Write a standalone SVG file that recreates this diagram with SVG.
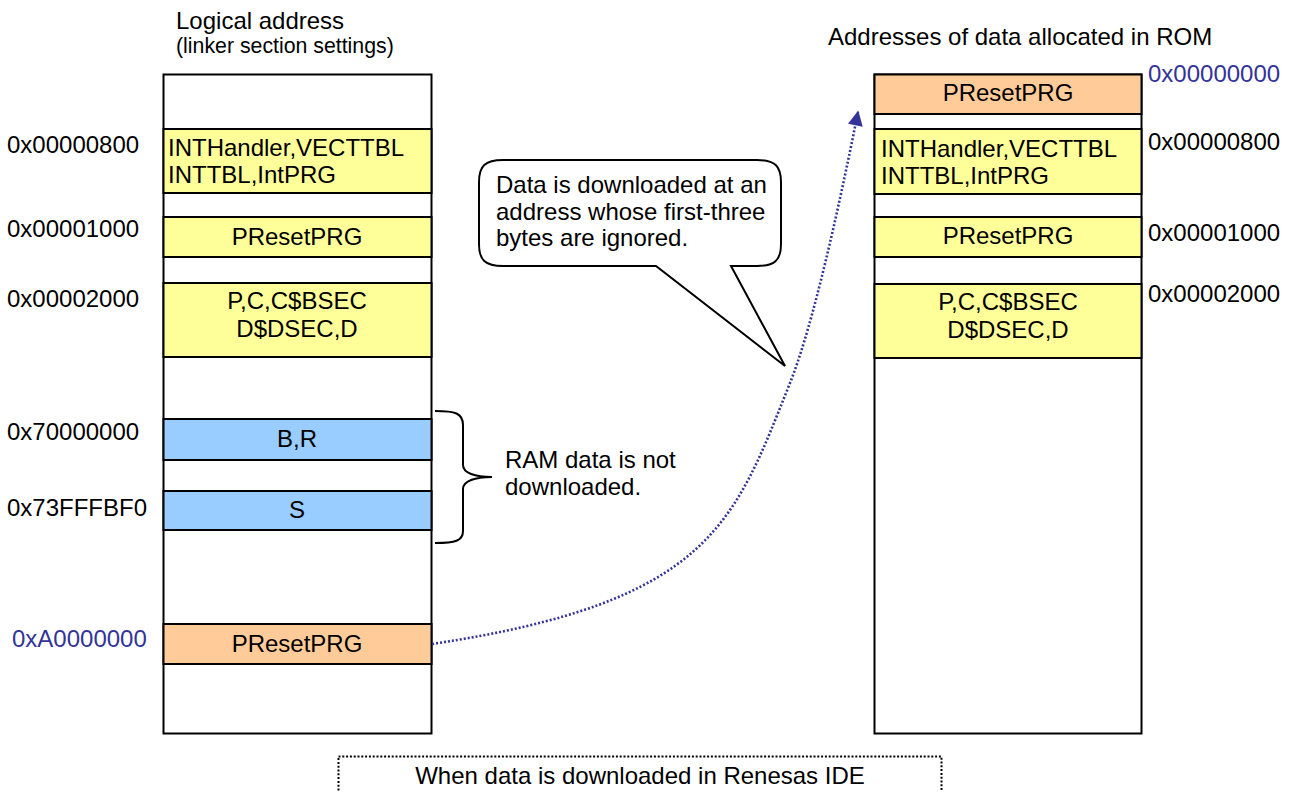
<svg xmlns="http://www.w3.org/2000/svg" width="1290" height="792" viewBox="0 0 1290 792">
<style>
text{font-family:"Liberation Sans",Arial,sans-serif;font-size:24px;fill:#000}
.sub{font-size:21.3px}
.blue{fill:#333399}
.mid{text-anchor:middle}
.col{fill:#fff;stroke:#000;stroke-width:2}
.blk{stroke:#000;stroke-width:2}
.y{fill:#FFFF99}
.o{fill:#FFCC99}
.b{fill:#99CCFF}
</style>
<defs>
<marker id="ah" viewBox="0 0 10 10" refX="9" refY="5" markerUnits="userSpaceOnUse" markerWidth="16" markerHeight="15" orient="auto">
<path d="M0,0 L10,5 L0,10 z" fill="#333399"/>
</marker>
</defs>
<rect width="1290" height="792" fill="#fff"/>

<g id="headers">
<text x="176" y="29">Logical address</text>
<text class="sub" x="176" y="53">(linker section settings)</text>
<text x="828" y="45">Addresses of data allocated in ROM</text>
</g>

<g id="logical-map">
<rect class="col" x="163.5" y="74.5" width="268" height="659"/>
<rect class="blk y" x="163.5" y="129" width="268" height="64"/>
<rect class="blk y" x="163.5" y="217" width="268" height="40"/>
<rect class="blk y" x="163.5" y="283" width="268" height="74"/>
<rect class="blk b" x="163.5" y="419" width="268" height="41"/>
<rect class="blk b" x="163.5" y="491" width="268" height="39"/>
<rect class="blk o" x="163.5" y="624" width="268" height="40"/>
<text x="168" y="156">INTHandler,VECTTBL</text>
<text x="168" y="183">INTTBL,IntPRG</text>
<text class="mid" x="297" y="245">PResetPRG</text>
<text class="mid" x="297" y="309">P,C,C$BSEC</text>
<text class="mid" x="297" y="337">D$DSEC,D</text>
<text class="mid" x="297" y="447">B,R</text>
<text class="mid" x="297" y="518">S</text>
<text class="mid" x="297" y="652">PResetPRG</text>
</g>

<g id="logical-addresses">
<text x="7" y="153">0x00000800</text>
<text x="7" y="237">0x00001000</text>
<text x="7" y="307">0x00002000</text>
<text x="7" y="440">0x70000000</text>
<text x="7" y="516">0x73FFFBF0</text>
<text class="blue" x="12" y="647">0xA0000000</text>
</g>

<g id="rom-map">
<rect class="col" x="874.5" y="74.5" width="267" height="659"/>
<rect class="blk o" x="874.5" y="74.5" width="267" height="39.5"/>
<rect class="blk y" x="874.5" y="129" width="267" height="65"/>
<rect class="blk y" x="874.5" y="217" width="267" height="40"/>
<rect class="blk y" x="874.5" y="284" width="267" height="74"/>
<text class="mid" x="1008" y="101">PResetPRG</text>
<text x="881" y="157">INTHandler,VECTTBL</text>
<text x="881" y="184">INTTBL,IntPRG</text>
<text class="mid" x="1008" y="244">PResetPRG</text>
<text class="mid" x="1008" y="310">P,C,C$BSEC</text>
<text class="mid" x="1008" y="338">D$DSEC,D</text>
</g>

<g id="rom-addresses">
<text class="blue" x="1148" y="82">0x00000000</text>
<text x="1148" y="150">0x00000800</text>
<text x="1148" y="241">0x00001000</text>
<text x="1148" y="302">0x00002000</text>
</g>

<g id="callout">
<path d="M503,160 H757 C775,160 781,166 781,182 V244 C781,260 775,266 757,266 H731 L785,366 L656,266 H503 C485,266 479,260 479,244 V182 C479,166 485,160 503,160 Z" fill="#fff" stroke="#000" stroke-width="2" stroke-linejoin="miter"/>
<text x="496" y="193">Data is downloaded at an</text>
<text x="496" y="220">address whose first-three</text>
<text x="496" y="246">bytes are ignored.</text>
</g>

<g id="ram-brace">
<path d="M435,411 C455,411 463,413 463,425 V465 C463,473 475,477 492,477 C475,477 463,481 463,489 V531 C463,541 455,543 435,543" fill="none" stroke="#000" stroke-width="2"/>
<text x="505" y="468">RAM data is not</text>
<text x="505" y="495">downloaded.</text>
</g>

<g id="connectors">
<path d="M432,644 C711,602 734,523 790,383 Q817.6,314 858,112" fill="none" stroke="#333399" stroke-width="2.6" stroke-dasharray="2 2"/>
<path d="M856,122 L858,112" fill="none" stroke="#333399" stroke-width="1" marker-end="url(#ah)"/>
</g>

<g id="footer">
<rect x="338.5" y="756.5" width="603" height="60" fill="none" stroke="#000" stroke-width="2" stroke-dasharray="2 1.8"/>
<text class="mid" x="640" y="784">When data is downloaded in Renesas IDE</text>
</g>
</svg>
